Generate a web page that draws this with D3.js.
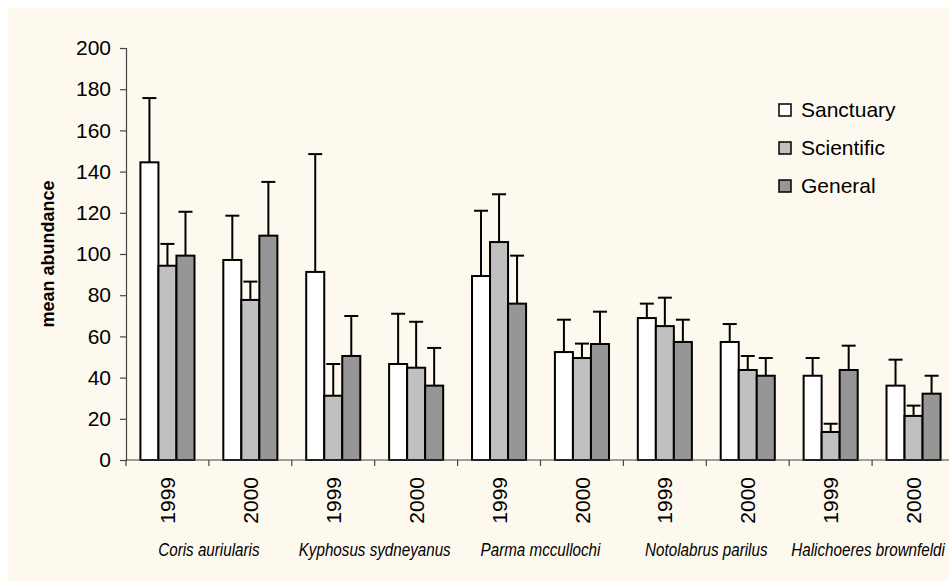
<!DOCTYPE html>
<html>
<head>
<meta charset="utf-8">
<script src="https://cdn.jsdelivr.net/npm/d3@7"></script>
<style>
  html, body { margin: 0; padding: 0; background: #ffffff; }
  svg { display: block; }
  text { font-family: "Liberation Sans", Arial, sans-serif; fill: #000; }
</style>
</head>
<body>
<svg id="chart" width="949" height="583"></svg>
<script>
// ---- data ----
const years = ["1999", "2000", "1999", "2000", "1999", "2000", "1999", "2000", "1999", "2000"];
const species = ["Coris auriularis", "Kyphosus sydneyanus", "Parma mccullochi", "Notolabrus parilus", "Halichoeres brownfeldi"];
const seriesNames = ["Sanctuary", "Scientific", "General"];
const sanctuary   = [144.5, 97.1, 91.3, 46.6, 89.3, 52.4, 68.9, 57.3, 40.9, 36.1];
const sanctuarySE = [31.2, 21.5, 57.2, 24.4, 31.7, 15.7, 7.0, 8.7, 8.6, 12.6];
const scientific   = [94.3, 77.7, 31.2, 44.8, 105.8, 49.5, 65.0, 43.7, 13.6, 21.4];
const scientificSE = [10.6, 8.9, 15.4, 22.3, 23.2, 7.0, 13.8, 6.8, 4.0, 5.0];
const general   = [99.2, 108.9, 50.5, 36.1, 75.9, 56.3, 57.3, 40.9, 43.7, 32.2];
const generalSE = [21.3, 26.1, 19.4, 18.3, 23.3, 15.7, 10.8, 8.6, 11.8, 8.7];
const yTicks = [0, 20, 40, 60, 80, 100, 120, 140, 160, 180, 200];
const colors = ["#FFFFFF", "#C0C0C0", "#969696"];

const means = [sanctuary, scientific, general];
const errs = [sanctuarySE, scientificSE, generalSE];
const catIdx = years.map((d, i) => i);

const svg = d3.select("#chart");

// background
svg.append("rect").attr("x", 8).attr("y", 8).attr("width", 941).attr("height", 573).attr("fill", "#FEF9EE");

const x0 = 126, y0 = 460, yTop = 48;
const step = 82.9;
const x = d3.scaleBand().domain(catIdx).range([x0, x0 + step * years.length]).paddingInner(0).paddingOuter(0);
const xs = d3.scaleBand().domain(seriesNames).range([0, x.bandwidth()]).paddingInner(0).paddingOuter(0.8);
const y = d3.scaleLinear().domain([0, 200]).range([y0, yTop]);

// y axis
const yAxis = d3.axisLeft(y).tickValues(yTicks).tickSize(6).tickPadding(9);
const gy = svg.append("g").attr("transform", `translate(${x0},0)`).call(yAxis);
gy.select(".domain").attr("stroke", "#444").attr("stroke-width", 1.2);
gy.selectAll(".tick line").attr("stroke", "#444").attr("stroke-width", 1.2);
gy.selectAll(".tick text").style("font-size", "21px").style("font-family", "Liberation Sans, Arial, sans-serif").attr("fill", "#000");

// bars
const barData = [];
seriesNames.forEach((s, si) => {
  catIdx.forEach(ci => barData.push({ s, si, ci, v: means[si][ci], e: errs[si][ci] }));
});

const gBars = svg.append("g");
gBars.selectAll("line.stem").data(barData).join("line")
  .attr("class", "stem")
  .attr("x1", d => x(d.ci) + xs(d.s) + xs.bandwidth() / 2)
  .attr("x2", d => x(d.ci) + xs(d.s) + xs.bandwidth() / 2)
  .attr("y1", d => y(d.v))
  .attr("y2", d => y(d.v + d.e))
  .attr("stroke", "#000").attr("stroke-width", 2);
gBars.selectAll("line.cap").data(barData).join("line")
  .attr("class", "cap")
  .attr("x1", d => x(d.ci) + xs(d.s) + xs.bandwidth() / 2 - 7)
  .attr("x2", d => x(d.ci) + xs(d.s) + xs.bandwidth() / 2 + 7)
  .attr("y1", d => y(d.v + d.e))
  .attr("y2", d => y(d.v + d.e))
  .attr("stroke", "#000").attr("stroke-width", 2);

gBars.selectAll("rect.bar").data(barData).join("rect")
  .attr("class", "bar")
  .attr("x", d => x(d.ci) + xs(d.s))
  .attr("y", d => y(d.v))
  .attr("width", xs.bandwidth())
  .attr("height", d => y0 - y(d.v))
  .attr("fill", d => colors[d.si])
  .attr("stroke", "#000").attr("stroke-width", 2);

// x axis line and ticks at category boundaries
const boundaries = catIdx.map(i => x(i)).concat([x(catIdx[catIdx.length - 1]) + x.bandwidth()]);
svg.append("line").attr("x1", x0).attr("x2", 949).attr("y1", y0).attr("y2", y0)
  .attr("stroke", "#444").attr("stroke-width", 1.2);
svg.selectAll("line.xtick").data(boundaries).join("line")
  .attr("class", "xtick")
  .attr("x1", d => d).attr("x2", d => d)
  .attr("y1", y0).attr("y2", y0 + 6)
  .attr("stroke", "#444").attr("stroke-width", 1.2);

// year labels (rotated)
svg.selectAll("text.year").data(catIdx).join("text")
  .attr("class", "year")
  .attr("transform", d => `translate(${x(d) + x.bandwidth() / 2},477) rotate(-90)`)
  .attr("text-anchor", "end")
  .attr("dy", "0.36em")
  .style("font-size", "21px")
  .text(d => years[d]);

// species labels (kept inside the chart's right edge)
const sx = 0.8;
svg.selectAll("text.species").data(species).join("text")
  .attr("class", "species")
  .attr("text-anchor", "middle")
  .style("font-size", "19px")
  .style("font-style", "italic")
  .text(d => d)
  .each(function(d, i) {
    const w = this.getComputedTextLength() * sx;
    let cx = x(i * 2) + x.bandwidth();
    cx = Math.min(cx, 945 - w / 2);
    d3.select(this).attr("transform", `translate(${cx},556) scale(${sx},1)`);
  });

// y axis title
svg.append("text")
  .attr("transform", `translate(54,${(y0 + yTop) / 2}) rotate(-90)`)
  .attr("text-anchor", "middle")
  .style("font-size", "18px")
  .style("font-weight", "bold")
  .text("mean abundance");

// legend
const lg = svg.append("g").attr("transform", "translate(779,110)");
const li = lg.selectAll("g").data(seriesNames).join("g")
  .attr("transform", (d, i) => `translate(0,${i * 38})`);
li.append("rect").attr("x", 0).attr("y", -6).attr("width", 12).attr("height", 12)
  .attr("fill", (d, i) => colors[i]).attr("stroke", "#000").attr("stroke-width", 1.5);
li.append("text").attr("x", 22).attr("y", 0).attr("dy", "0.35em")
  .style("font-size", "21px").text(d => d);
</script>
</body>
</html>
